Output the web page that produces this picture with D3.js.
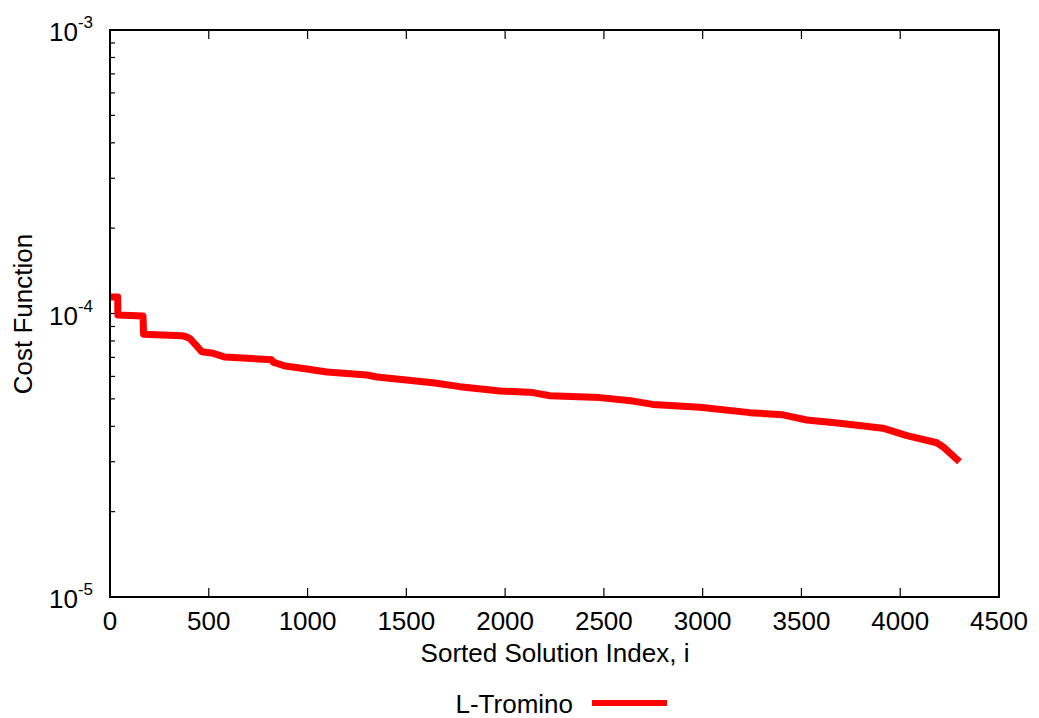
<!DOCTYPE html>
<html>
<head>
<meta charset="utf-8">
<script src="https://cdn.jsdelivr.net/npm/d3@7/dist/d3.min.js"></script>
<style>
  body { margin: 0; background: #fff; }
  svg { display: block; }
  text { font-family: "Liberation Sans", Arial, Helvetica, sans-serif; fill: #000; }
</style>
</head>
<body>
<svg id="chart" width="1039" height="718"></svg>
<script>
// Data (sorted solution index vs cost function)
const solutionIndex = [0, 39, 40, 167, 170, 363, 385, 405, 435, 464, 515, 582, 818, 825, 886, 962, 1098, 1301, 1351, 1635, 1771, 1974, 2141, 2227, 2480, 2647, 2748, 2986, 3239, 3406, 3527, 3694, 3912, 4034, 4185, 4216, 4300];
const costValue = [1.143e-4, 1.143e-4, 9.88e-5, 9.80e-5, 8.45e-5, 8.35e-5, 8.28e-5, 8.15e-5, 7.74e-5, 7.33e-5, 7.26e-5, 7.02e-5, 6.87e-5, 6.74e-5, 6.53e-5, 6.42e-5, 6.22e-5, 6.07e-5, 5.97e-5, 5.70e-5, 5.52e-5, 5.33e-5, 5.26e-5, 5.13e-5, 5.05e-5, 4.91e-5, 4.78e-5, 4.67e-5, 4.47e-5, 4.39e-5, 4.21e-5, 4.10e-5, 3.94e-5, 3.71e-5, 3.50e-5, 3.39e-5, 3.00e-5];
const xTicks = [0, 500, 1000, 1500, 2000, 2500, 3000, 3500, 4000, 4500];
const yMajorExp = [-5, -4, -3];
const seriesName = "L-Tromino";
const xTitle = "Sorted Solution Index, i";
const yTitle = "Cost Function";

const svg = d3.select("#chart");
const L = 110, R = 999, T = 30, B = 597;

const x = d3.scaleLinear().domain([0, 4500]).range([L, R]);
const y = d3.scaleLog().domain([1e-5, 1e-3]).range([B, T]);

// minor log ticks
const minor = [];
for (let e = -5; e < -3; e++) {
  for (let m = 2; m <= 9; m++) minor.push(m * Math.pow(10, e));
}

const g = svg.append("g");

// y minor ticks
g.selectAll("line.ymin").data(minor).enter().append("line")
  .attr("x1", L).attr("x2", L + 5)
  .attr("y1", d => y(d)).attr("y2", d => y(d))
  .attr("stroke", "#000").attr("stroke-width", 1.2);
// y major ticks
g.selectAll("line.ymaj").data(yMajorExp).enter().append("line")
  .attr("x1", L).attr("x2", L + 9)
  .attr("y1", d => y(Math.pow(10, d))).attr("y2", d => y(Math.pow(10, d)))
  .attr("stroke", "#000").attr("stroke-width", 1.2);

// x ticks bottom and top (mirrored)
g.selectAll("line.xb").data(xTicks).enter().append("line")
  .attr("x1", d => x(d)).attr("x2", d => x(d))
  .attr("y1", B).attr("y2", B - 9)
  .attr("stroke", "#000").attr("stroke-width", 1.2);
g.selectAll("line.xt").data(xTicks).enter().append("line")
  .attr("x1", d => x(d)).attr("x2", d => x(d))
  .attr("y1", T).attr("y2", T + 9)
  .attr("stroke", "#000").attr("stroke-width", 1.2);

// x tick labels
g.selectAll("text.xl").data(xTicks).enter().append("text")
  .attr("x", d => x(d)).attr("y", 630)
  .attr("text-anchor", "middle")
  .style("font-size", "26px")
  .text(d => d);

// y tick labels 10^e
yMajorExp.forEach(e => {
  const t = g.append("text")
    .attr("x", 93).attr("y", y(Math.pow(10, e)) + 11)
    .attr("text-anchor", "end")
    .style("font-size", "26px");
  t.append("tspan").text("10");
  t.append("tspan").attr("dy", -13).style("font-size", "17px").text(e);
});

// line
const line = d3.line().x((d, i) => x(solutionIndex[i])).y(d => y(d));
g.append("path").datum(costValue)
  .attr("d", line)
  .attr("fill", "none")
  .attr("stroke", "#ff0000")
  .attr("stroke-width", 7)
  .attr("stroke-linejoin", "round");

// frame
g.append("rect").attr("x", L).attr("y", T).attr("width", R - L).attr("height", B - T)
  .attr("fill", "none").attr("stroke", "#000").attr("stroke-width", 2);

// axis titles
g.append("text").attr("x", 555).attr("y", 662).attr("text-anchor", "middle")
  .style("font-size", "26px").text(xTitle);
g.append("text").attr("transform", "translate(32,314) rotate(-90)")
  .attr("text-anchor", "middle").style("font-size", "26px").text(yTitle);

// legend
g.append("text").attr("x", 573).attr("y", 713).attr("text-anchor", "end")
  .style("font-size", "26px").text(seriesName);
g.append("line").attr("x1", 592).attr("x2", 667).attr("y1", 703).attr("y2", 703)
  .attr("stroke", "#ff0000").attr("stroke-width", 6);
</script>
</body>
</html>
